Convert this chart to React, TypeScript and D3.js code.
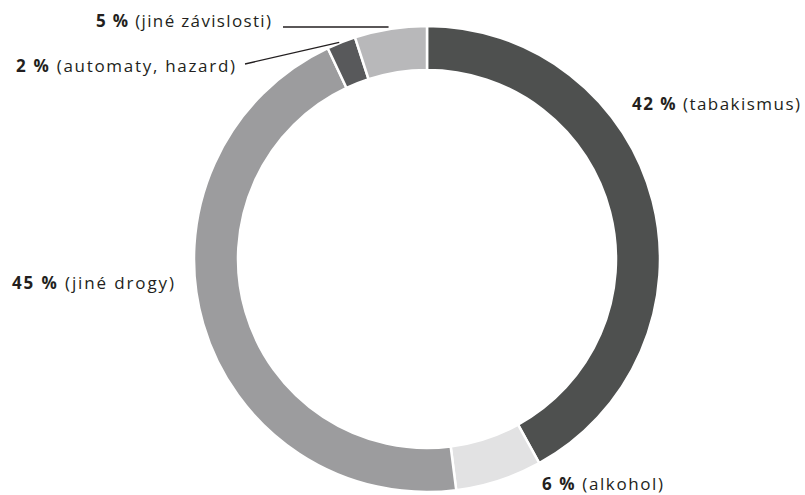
import React from 'react';
import * as d3 from 'd3';

const categories = ['tabakismus', 'alkohol', 'jiné drogy', 'automaty, hazard', 'jiné závislosti'];
const shares = [42, 6, 45, 2, 5];
const colors = ['#4e504f', '#e2e2e3', '#9c9c9e', '#58595b', '#b8b8ba'];

const width = 805;
const height = 495;
const cx = 427;
const cy = 259;
const outerR = 233;
const innerR = 189;

// label placement, text widths taken from the original typesetting
const labelPos = [
  { x: 632, y: 110, len: 168 },
  { x: 542, y: 490, len: 121 },
  { x: 12, y: 289, len: 162 },
  { x: 16, y: 72, len: 219, leader: [245, 64] },
  { x: 96, y: 27, len: 175, leader: [283, 27], flat: true },
];

const App = () => {
  const data = categories.map((c, i) => ({ name: c, value: shares[i], color: colors[i] }));
  const pie = d3.pie<any>().sort(null).value((d) => d.value);
  const arcs = pie(data);
  const arc = d3.arc<any>().innerRadius(innerR).outerRadius(outerR);
  const outerPoint = (a: number, r: number) => [cx + r * Math.sin(a), cy - r * Math.cos(a)];

  return (
    <div style={{ position: 'absolute', left: 0, top: 0 }}>
      <svg width={width} height={height} style={{ display: 'block', background: '#fff' }}>
        <g transform={`translate(${cx},${cy})`}>
          {arcs.map((a, i) => (
            <path key={i} d={arc(a) as string} fill={a.data.color} stroke="#fff" strokeWidth={2.5} />
          ))}
        </g>
        {arcs.map((a, i) => {
          const lp: any = labelPos[i];
          if (!lp.leader) return null;
          const ang = (a.startAngle + a.endAngle) / 2;
          const [ex, ey] = outerPoint(ang, outerR);
          return (
            <line key={'l' + i} x1={lp.leader[0]} y1={lp.leader[1]} x2={ex - 2} y2={lp.flat ? lp.leader[1] : ey}
              stroke="#231f20" strokeWidth={1.3} />
          );
        })}
        {arcs.map((a, i) => {
          const lp: any = labelPos[i];
          return (
            <text key={'t' + i} x={lp.x} y={lp.y} textLength={lp.len} lengthAdjust="spacing"
              fontFamily="'Open Sans', sans-serif" fontSize={17} fill="#231f20">
              <tspan fontWeight="bold">{a.data.value} %</tspan>
              <tspan> ({a.data.name})</tspan>
            </text>
          );
        })}
      </svg>
    </div>
  );
};

export default App;
